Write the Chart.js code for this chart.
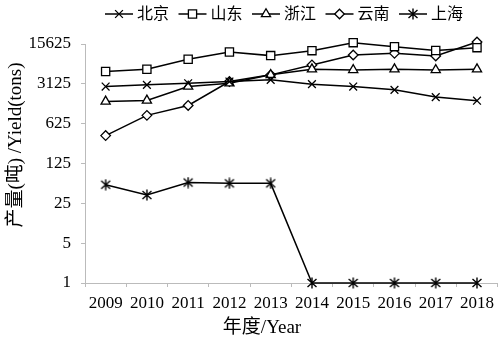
<!DOCTYPE html>
<html>
<head>
<meta charset="utf-8">
<script src="https://cdn.jsdelivr.net/npm/chart.js@4.4.1/dist/chart.umd.min.js"></script>
<style>
  html, body { margin: 0; padding: 0; background: #fff; overflow: hidden; }
  canvas { display: block; }
</style>
</head>
<body>
<canvas id="c" width="500" height="351"></canvas>
<script>
// years on the x axis
const years = ['2009', '2010', '2011', '2012', '2013', '2014', '2015', '2016', '2017', '2018'];

// yield (tons) per province
const beijing  = [2800, 3000, 3200, 3430, 3670, 3080, 2800, 2450, 1830, 1580];
const shandong = [5130, 5640, 8430, 11320, 9770, 11940, 16490, 14030, 12000, 13470];
const zhejiang = [1535, 1600, 2800, 3200, 4490, 5640, 5490, 5640, 5490, 5640];
const yunnan   = [386, 874, 1306, 3430, 4490, 6700, 10030, 10710, 9640, 16900];
const shanghai = [53, 35, 58, 56, 56, 1, 1, 1, 1, 1];

// base-5 ticks used on the log axis
const yTicks = [1, 5, 25, 125, 625, 3125, 15625];

const serif = "'Liberation Serif', 'Noto Sans CJK SC', serif";

// six-armed asterisk marker for 上海
const asterisk = document.createElement('canvas');
asterisk.width = 12; asterisk.height = 12;
(function () {
  const c = asterisk.getContext('2d');
  c.strokeStyle = '#000';
  c.lineWidth = 1.4;
  c.beginPath();
  c.moveTo(6, 0.5); c.lineTo(6, 11.5);
  c.moveTo(1.5, 2); c.lineTo(10.5, 10);
  c.moveTo(10.5, 2); c.lineTo(1.5, 10);
  c.stroke();
})();

function series(label, data, style, r) {
  return {
    label: label,
    data: data,
    borderColor: '#000',
    borderWidth: 1.5,
    pointStyle: style,
    pointRadius: r,
    pointHoverRadius: r,
    pointBorderColor: '#000',
    pointBackgroundColor: '#fff',
    pointBorderWidth: 1.3,
    tension: 0,
    clip: false
  };
}

// legend (line + marker + text) and axis titles
const extras = {
  id: 'extras',
  afterDraw(chart) {
    const ctx = chart.ctx;
    ctx.save();
    ctx.font = "16px " + serif;
    ctx.textBaseline = 'middle';
    let x = 105;
    const y = 14;
    chart.data.datasets.forEach(ds => {
      ctx.strokeStyle = '#000';
      ctx.lineWidth = 1.5;
      ctx.beginPath();
      ctx.moveTo(x, y);
      ctx.lineTo(x + 28, y);
      ctx.stroke();
      ctx.fillStyle = '#fff';
      ctx.lineWidth = 1.3;
      Chart.helpers.drawPoint(ctx, {pointStyle: ds.pointStyle, radius: ds.pointRadius, borderWidth: 1.3, rotation: 0}, x + 14, y);
      ctx.fillStyle = '#000';
      ctx.textAlign = 'left';
      ctx.fillText(ds.label, x + 32, y + 1);
      x += 32 + ctx.measureText(ds.label).width + 9.5;
    });

    ctx.font = "19px " + serif;
    ctx.fillStyle = '#000';
    ctx.textAlign = 'center';
    ctx.fillText('年度/Year', 262, 328);

    ctx.translate(16, 145);
    ctx.rotate(-Math.PI / 2);
    ctx.fillText('产量(吨) /Yield(tons)', 0, 0);
    ctx.restore();
  }
};

new Chart(document.getElementById('c'), {
  type: 'line',
  data: {
    labels: years,
    datasets: [
      series('北京', beijing, 'crossRot', 5.5),
      series('山东', shandong, 'rect', 5.8),
      series('浙江', zhejiang, 'triangle', 5.3),
      series('云南', yunnan, 'rectRot', 4.8),
      series('上海', shanghai, asterisk, 6)
    ]
  },
  options: {
    responsive: false,
    animation: false,
    layout: { autoPadding: false, padding: { top: 44, right: 0, bottom: 0, left: 0 } },
    plugins: {
      legend: { display: false },
      tooltip: { enabled: false }
    },
    scales: {
      x: {
        offset: true,
        grid: { offset: true, drawOnChartArea: false, drawTicks: true, tickLength: 4, color: '#bbb' },
        border: { color: '#bbb', width: 1 },
        ticks: { color: '#000', font: { family: serif, size: 17 }, padding: 6, maxRotation: 0, autoSkip: false },
        afterFit(scale) { scale.height = 68; }
      },
      y: {
        type: 'logarithmic',
        min: 1,
        max: 15625,
        grid: { drawOnChartArea: false, drawTicks: true, tickLength: 4, color: '#bbb' },
        border: { color: '#bbb', width: 1 },
        ticks: { color: '#000', font: { family: serif, size: 17 }, padding: 10, callback: v => String(v) },
        afterBuildTicks(scale) { scale.ticks = yTicks.map(v => ({ value: v })); },
        afterFit(scale) { scale.width = 85; }
      }
    }
  },
  plugins: [extras]
});
</script>
</body>
</html>
